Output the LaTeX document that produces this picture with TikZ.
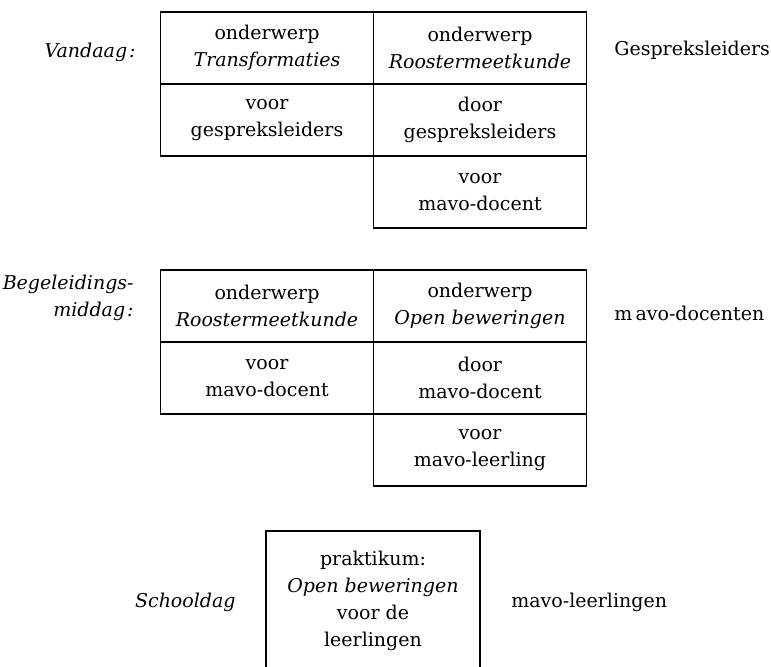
\documentclass[tikz,border=0pt]{standalone}
\usepackage{fontspec}
\setmainfont{DejaVu Serif}
\begin{document}
\begin{tikzpicture}[x=0.5pt,y=-0.5pt,
  txt/.style={font=\fontsize{9.5}{13.6}\selectfont, align=center, inner sep=0pt},
  cell/.style={txt, draw, line width=0.9pt, minimum width=106.5pt, minimum height=36pt},
  lbl/.style={font=\fontsize{9.5}{13.6}\selectfont, inner sep=0pt},
  frame/.style={line width=0.9pt}]
\useasboundingbox (0,0) rectangle (771,667);
% table 1
\node[cell] (t1a) at (267,48) {onderwerp\\\textit{Transformaties}};
\node[cell] (t1b) at (480,48) {onderwerp\\\textit{Roostermeetkunde}};
\node[cell] (t1c) at (267,120) {voor\\gespreksleiders};
\node[cell] (t1d) at (480,120) {door\\gespreksleiders};
\node[cell] (t1e) at (480,192) {voor\\mavo-docent};
% table 2
\node[cell] (t2a) at (267,306) {onderwerp\\\textit{Roostermeetkunde}};
\node[cell] (t2b) at (480,306) {onderwerp\\\textit{Open beweringen}};
\node[cell] (t2c) at (267,378) {voor\\mavo-docent};
\node[cell] (t2d) at (480,378) {door\\mavo-docent};
\node[cell] (t2e) at (480,450) {voor\\mavo-leerling};
% bottom box
\coordinate (bl) at (266,667);
\coordinate (br) at (480,667);
\coordinate (tl) at (266,531);
\coordinate (tr) at (480,531);
\node[txt] (prak) at (373,601) {praktikum:\\\textit{Open beweringen}\\voor de\\leerlingen};
\draw[frame] (bl) -- (tl) -- (tr) -- (br);
% labels
\node[lbl, anchor=east] (vandaag) at (136,52) {\textit{Vandaag\kern1pt:}};
\node[lbl, anchor=east, align=right] (begel) at (134,298) {\textit{Begeleidings-}\\\textit{middag\kern1pt:}};
\node[lbl, anchor=east] (school) at (236,602) {\textit{Schooldag}};
\node[lbl, anchor=west] (gesp) at (614,50) {Gespreksleiders};
\node[lbl, anchor=west] (mdoc) at (614,313) {m\,avo-docenten};
\node[lbl, anchor=west] (mleer) at (511,602) {mavo-leerlingen};
\end{tikzpicture}
\end{document}
